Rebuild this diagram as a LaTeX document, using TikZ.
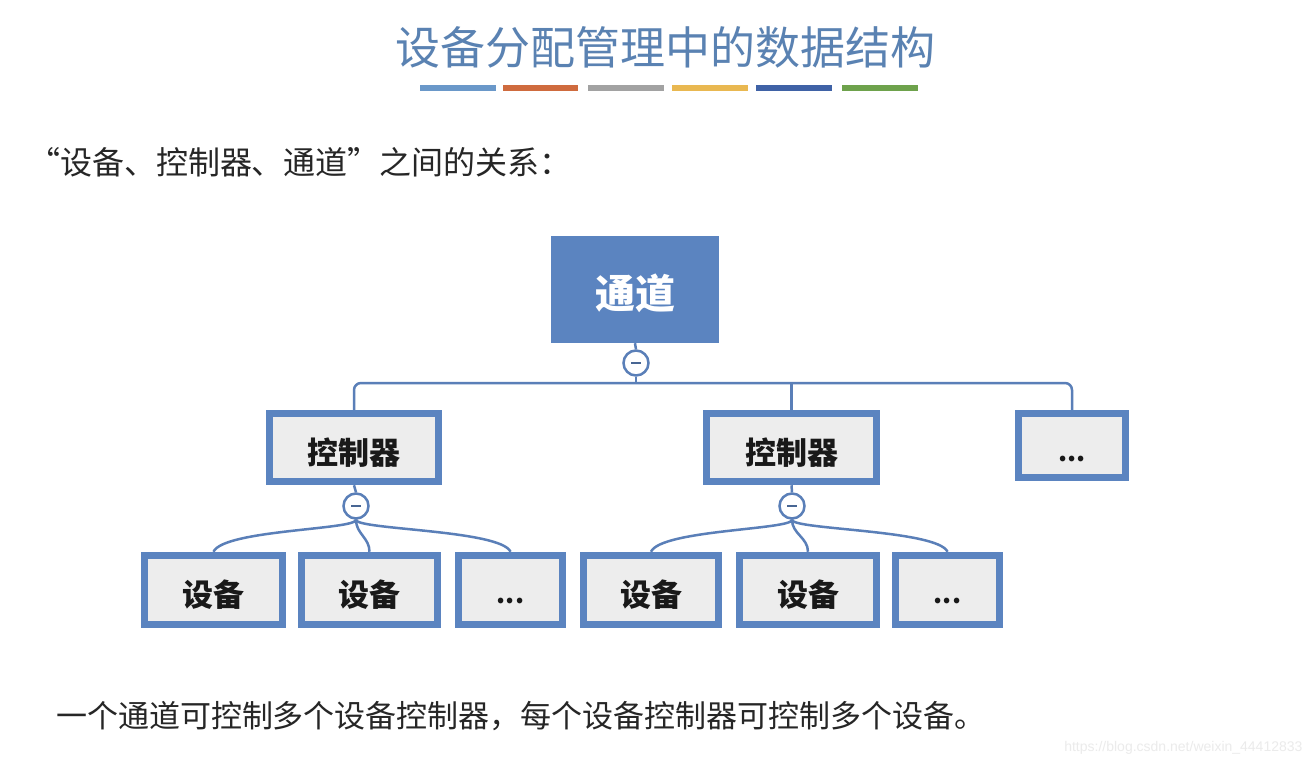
\documentclass[tikz,border=0pt]{standalone}
\usepackage{fontspec}
\newfontfamily\cjk{Noto Sans CJK SC}
\newfontfamily\wm{Liberation Sans}
\usetikzlibrary{calc}
\definecolor{boxblue}{HTML}{5B84C0}
\definecolor{lineblue}{HTML}{5A7FB8}
\definecolor{titleblue}{HTML}{5A82B2}
\definecolor{boxfill}{HTML}{EDEDED}
\definecolor{barA}{HTML}{6A98C9}
\definecolor{barB}{HTML}{CF6B3E}
\definecolor{barC}{HTML}{A2A2A2}
\definecolor{barD}{HTML}{E9B851}
\definecolor{barE}{HTML}{3F62A6}
\definecolor{barF}{HTML}{6EA24C}
\definecolor{wmgray}{HTML}{EBEBEB}
\tikzset{
  lvbox/.style={draw=boxblue, line width=7.5pt, fill=boxfill, minimum height=68pt,
    font=\cjk\bfseries\fontsize{31}{34}\selectfont, text=black!90, inner sep=0pt,
    text height=33pt, text depth=0pt},
  dotbox/.style={lvbox, font=\cjk\bfseries\fontsize{26}{30}\selectfont, text height=27pt},
  topbox/.style={fill=boxblue, minimum width=168pt, minimum height=107pt,
    font=\cjk\bfseries\fontsize{40}{44}\selectfont, text=white, inner sep=0pt,
    text height=37pt, text depth=0pt},
  knob/.style={circle, draw=lineblue, line width=2.5pt, fill=white, minimum size=25pt, inner sep=0pt},
  conn/.style={draw=lineblue, line width=2.5pt},
  bar/.style={line width=6pt},
}
\begin{document}
\begin{tikzpicture}[x=1pt,y=-1pt]
\useasboundingbox[fill=white] (0,0) rectangle (1312,768);
% title
\node[font=\cjk\fontsize{45}{49}\selectfont, text=titleblue] (title) at (665,47) {设备分配管理中的数据结构};
\draw[bar, barA] (420,88) -- (496,88);
\draw[bar, barB] (503,88) -- (578,88);
\draw[bar, barC] (588,88) -- (664,88);
\draw[bar, barD] (672,88) -- (748,88);
\draw[bar, barE] (756,88) -- (832,88);
\draw[bar, barF] (842,88) -- (918,88);
% subtitle
\node[font=\cjk\fontsize{32}{35}\selectfont, text=black!85] (sub) at (300,162) {“设备、控制器、通道”之间的关系：};
% top
\node[topbox] (tong) at (635,289.5) {通道};
\node[knob] (c0) at (636,363) {};
\node[lvbox, minimum width=169pt] (k1) at (354,447.5) {控制器};
\node[lvbox, minimum width=170pt] (k2) at (791.5,447.5) {控制器};
\node[dotbox, minimum width=107pt, minimum height=64pt, text height=31pt] (kd) at (1072,445.5) {...};
\coordinate (hl) at (636,383);
\draw[conn] (tong.south) -- (c0.north);
\draw[conn] (c0.south) -- (hl);
\draw[conn, rounded corners=7pt] (k1.north) |- (hl) -| (kd.north);
\draw[conn] (k2.north) -- (k2.north |- hl);
% knobs under controllers
\node[knob] (c1) at (356,506) {};
\node[knob] (c2) at (792,506) {};
\draw[conn] (k1.south) -- (c1.north);
\draw[conn] (k2.south) -- (c2.north);
\foreach \c in {c0,c1,c2}{
  \draw[line width=2.5pt, draw=lineblue!80!black] ($(\c.center)+(-5,0)$) -- ($(\c.center)+(5,0)$);
}
% devices
\node[lvbox, minimum width=138pt, minimum height=69pt] (s1) at (213.5,590) {设备};
\node[lvbox, minimum width=136pt, minimum height=69pt] (s2) at (369.5,590) {设备};
\node[dotbox, minimum width=104pt, minimum height=69pt] (sd1) at (510.5,590) {...};
\node[lvbox, minimum width=135pt, minimum height=69pt] (s3) at (651,590) {设备};
\node[lvbox, minimum width=137pt, minimum height=69pt] (s4) at (808,590) {设备};
\node[dotbox, minimum width=104pt, minimum height=69pt] (sd2) at (947.5,590) {...};
\draw[conn] (c1.south) .. controls ($(c1.south)+(0,10)$) and ($(s1.north)+(10,-22)$) .. (s1.north);
\draw[conn] (c1.south) .. controls ($(c1.south)+(0,14)$) and ($(s2.north)+(0,-14)$) .. (s2.north);
\draw[conn] (c1.south) .. controls ($(c1.south)+(0,10)$) and ($(sd1.north)+(-10,-22)$) .. (sd1.north);
\draw[conn] (c2.south) .. controls ($(c2.south)+(0,10)$) and ($(s3.north)+(10,-22)$) .. (s3.north);
\draw[conn] (c2.south) .. controls ($(c2.south)+(0,14)$) and ($(s4.north)+(0,-14)$) .. (s4.north);
\draw[conn] (c2.south) .. controls ($(c2.south)+(0,10)$) and ($(sd2.north)+(-10,-22)$) .. (sd2.north);
% bottom text
\node[font=\cjk\fontsize{31}{34}\selectfont, text=black!85] (bot) at (521,716) {一个通道可控制多个设备控制器，每个设备控制器可控制多个设备。};
\node[anchor=east, font=\wm\fontsize{14}{16}\selectfont, text=wmgray] (wm) at (1306,748) {https://blog.csdn.net/weixin\_44412833};
\end{tikzpicture}
\end{document}
